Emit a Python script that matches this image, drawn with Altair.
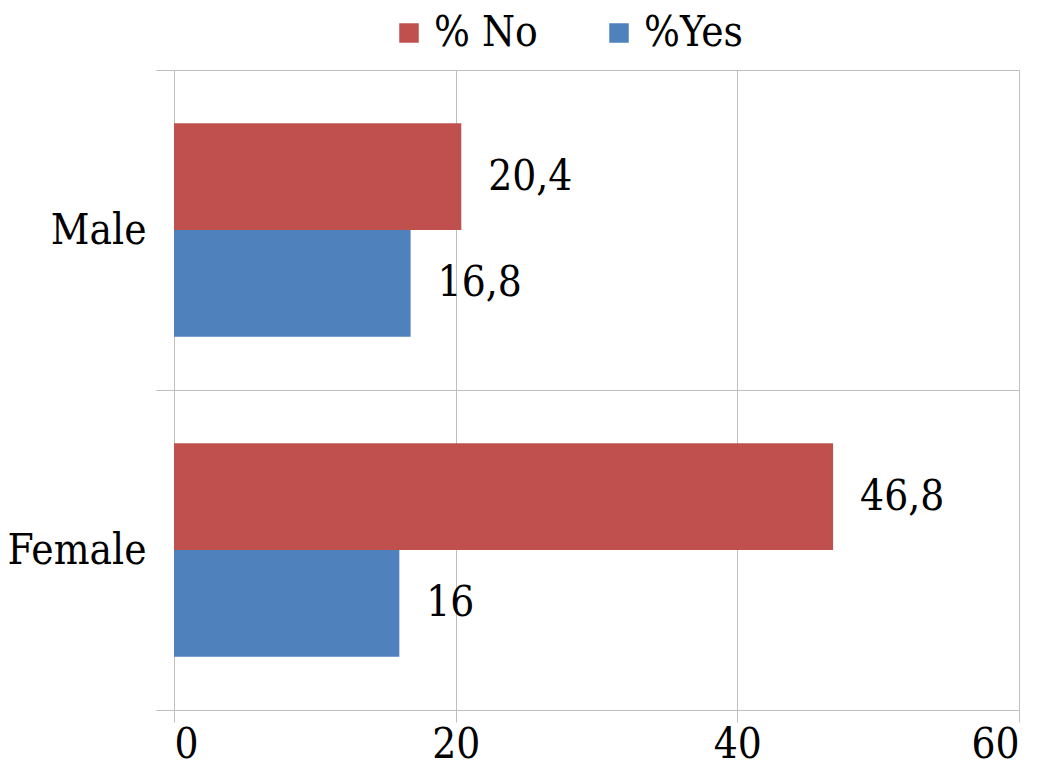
import altair as alt
import pandas as pd

categories = ["Male", "Male", "Female", "Female"]
series = ["% No", "%Yes", "% No", "%Yes"]
values = [20.4, 16.8, 46.8, 16]
labels = ["20,4", "16,8", "46,8", "16"]

series_order = ["% No", "%Yes"]
colors = ["#C0504D", "#4F81BD"]
x_ticks = [0, 20, 40, 60]

df = pd.DataFrame({"cat": categories, "series": series, "value": values, "label": labels})

FONT = "DejaVu Serif Condensed, DejaVu Serif"
FS = 42
GRID = "#BFBFBF"

y_enc = alt.Y("cat:N", sort=["Male", "Female"],
              scale=alt.Scale(paddingInner=0, paddingOuter=0),
              axis=alt.Axis(title=None, grid=True, tickBand="extent", domain=False,
                            tickSize=18, tickColor=GRID, gridColor=GRID,
                            labelFont=FONT, labelFontSize=FS, labelColor="black",
                            labelPadding=10))
yoff = alt.YOffset("series:N", sort=series_order,
                   scale=alt.Scale(paddingInner=0, paddingOuter=0.5))
x_enc = alt.X("value:Q", scale=alt.Scale(domain=[0, 60], nice=False),
              axis=alt.Axis(title=None, values=x_ticks, grid=True, domain=False,
                            tickSize=12, tickColor=GRID, gridColor=GRID,
                            labelFont=FONT, labelFontSize=FS, labelColor="black",
                            labelPadding=2))

bars = alt.Chart(df).mark_bar().encode(
    x=x_enc, y=y_enc, yOffset=yoff,
    color=alt.Color("series:N", sort=series_order,
                    scale=alt.Scale(domain=series_order, range=colors),
                    legend=alt.Legend(title=None, orient="none", direction="horizontal",
                                      legendX=214, legendY=-58,
                                      symbolType="square", symbolSize=380,
                                      symbolStrokeWidth=0,
                                      labelFont=FONT, labelFontSize=FS, labelColor="black",
                                      labelOffset=4, columnPadding=60)),
)

text = alt.Chart(df).mark_text(align="left", baseline="middle", dx=27,
                               font=FONT, fontSize=FS, color="black").encode(
    x="value:Q", y=alt.Y("cat:N", sort=["Male", "Female"]), yOffset=yoff, text="label:N"
)

chart = (bars + text).properties(
    width=845, height=640,
    autosize=alt.AutoSizeParams(type="none"),
    padding={"left": 166, "top": 62, "right": 14, "bottom": 59},
).configure_view(strokeWidth=0)

chart.save("out.html", embed_options={"renderer": "svg", "actions": False})
